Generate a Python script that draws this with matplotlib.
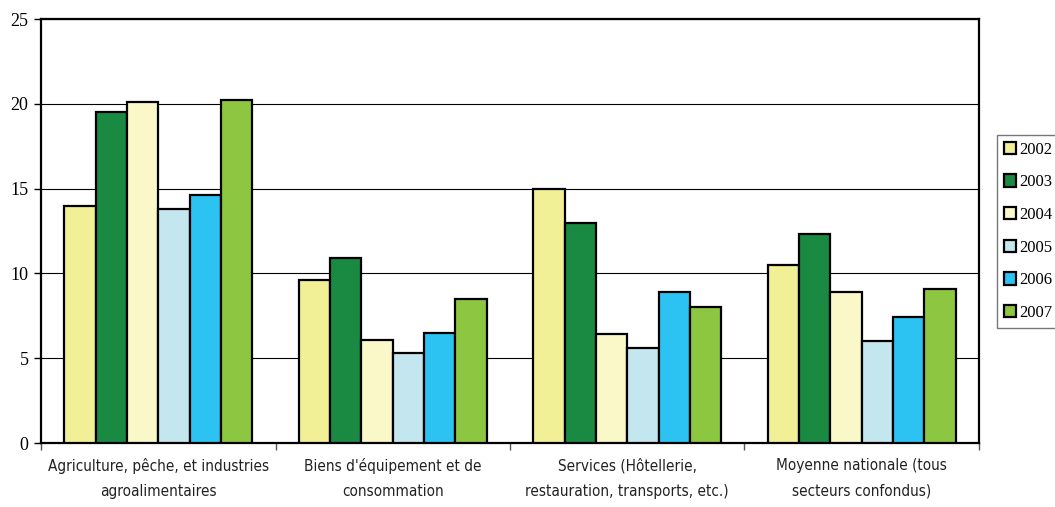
import matplotlib
matplotlib.use("Agg")
import matplotlib.pyplot as plt
import numpy as np

categories = ["Agriculture, pêche, et industries\nagroalimentaires",
              "Biens d'équipement et de\nconsommation",
              "Services (Hôtellerie,\nrestauration, transports, etc.)",
              "Moyenne nationale (tous\nsecteurs confondus)"]
years = ["2002", "2003", "2004", "2005", "2006", "2007"]
v2002 = [14.0, 9.6, 15.0, 10.5]
v2003 = [19.5, 10.9, 13.0, 12.3]
v2004 = [20.1, 6.1, 6.4, 8.9]
v2005 = [13.8, 5.3, 5.6, 6.0]
v2006 = [14.6, 6.5, 8.9, 7.4]
v2007 = [20.2, 8.5, 8.0, 9.1]
series = [v2002, v2003, v2004, v2005, v2006, v2007]
colors = ["#F2F096", "#1A8A42", "#FAF8C8", "#C4E6EF", "#2CC3F2", "#8DC641"]

serif = "Liberation Serif"

fig = plt.figure(figsize=(10.55, 5.07), dpi=100)
ax = fig.add_axes([41/1055, 1-443/507, (979-41)/1055, (443-19)/507])

n = len(series)
bw = 0.8 / n
x = np.arange(len(categories))
for i, (vals, c, y) in enumerate(zip(series, colors, years)):
    ax.bar(x - 0.4 + bw*(i+0.5), vals, width=bw, color=c, edgecolor="black",
           linewidth=1.6, label=y, zorder=3)

ax.set_xlim(-0.5, len(categories)-0.5)
ax.set_ylim(0, 25)
ax.set_yticks([0, 5, 10, 15, 20, 25])
ax.set_yticklabels(["0", "5", "10", "15", "20", "25"], family=serif, fontsize=13)
ax.yaxis.grid(True, color="black", linewidth=0.8, zorder=0)
ax.set_axisbelow(True)

ax.set_xticks(np.arange(-0.5, len(categories)), minor=False)
ax.set_xticklabels([])
ax.set_xticks(x, minor=True)
ax.set_xticklabels(categories, minor=True, family="DejaVu Sans", stretch="condensed",
                   fontsize=11, color="#222222", linespacing=1.85)
ax.tick_params(axis="x", which="minor", length=0, pad=11)
ax.tick_params(axis="x", which="major", length=5, width=1, color="#555555", direction="out")
ax.tick_params(axis="y", length=5, width=1, direction="out", pad=4)

for s in ["left", "top", "right", "bottom"]:
    ax.spines[s].set_linewidth(1.6)

leg = fig.legend(loc="upper left", bbox_to_anchor=(997/1055, 1-135/507),
                 prop={"family": serif, "size": 12}, frameon=True, fancybox=False,
                 edgecolor="#555555", handlelength=0.75, handleheight=0.75,
                 handletextpad=0.2, labelspacing=1.0, borderpad=0.4, borderaxespad=0)
leg.get_frame().set_linewidth(1.0)

fig.savefig("out.png", dpi=100)
